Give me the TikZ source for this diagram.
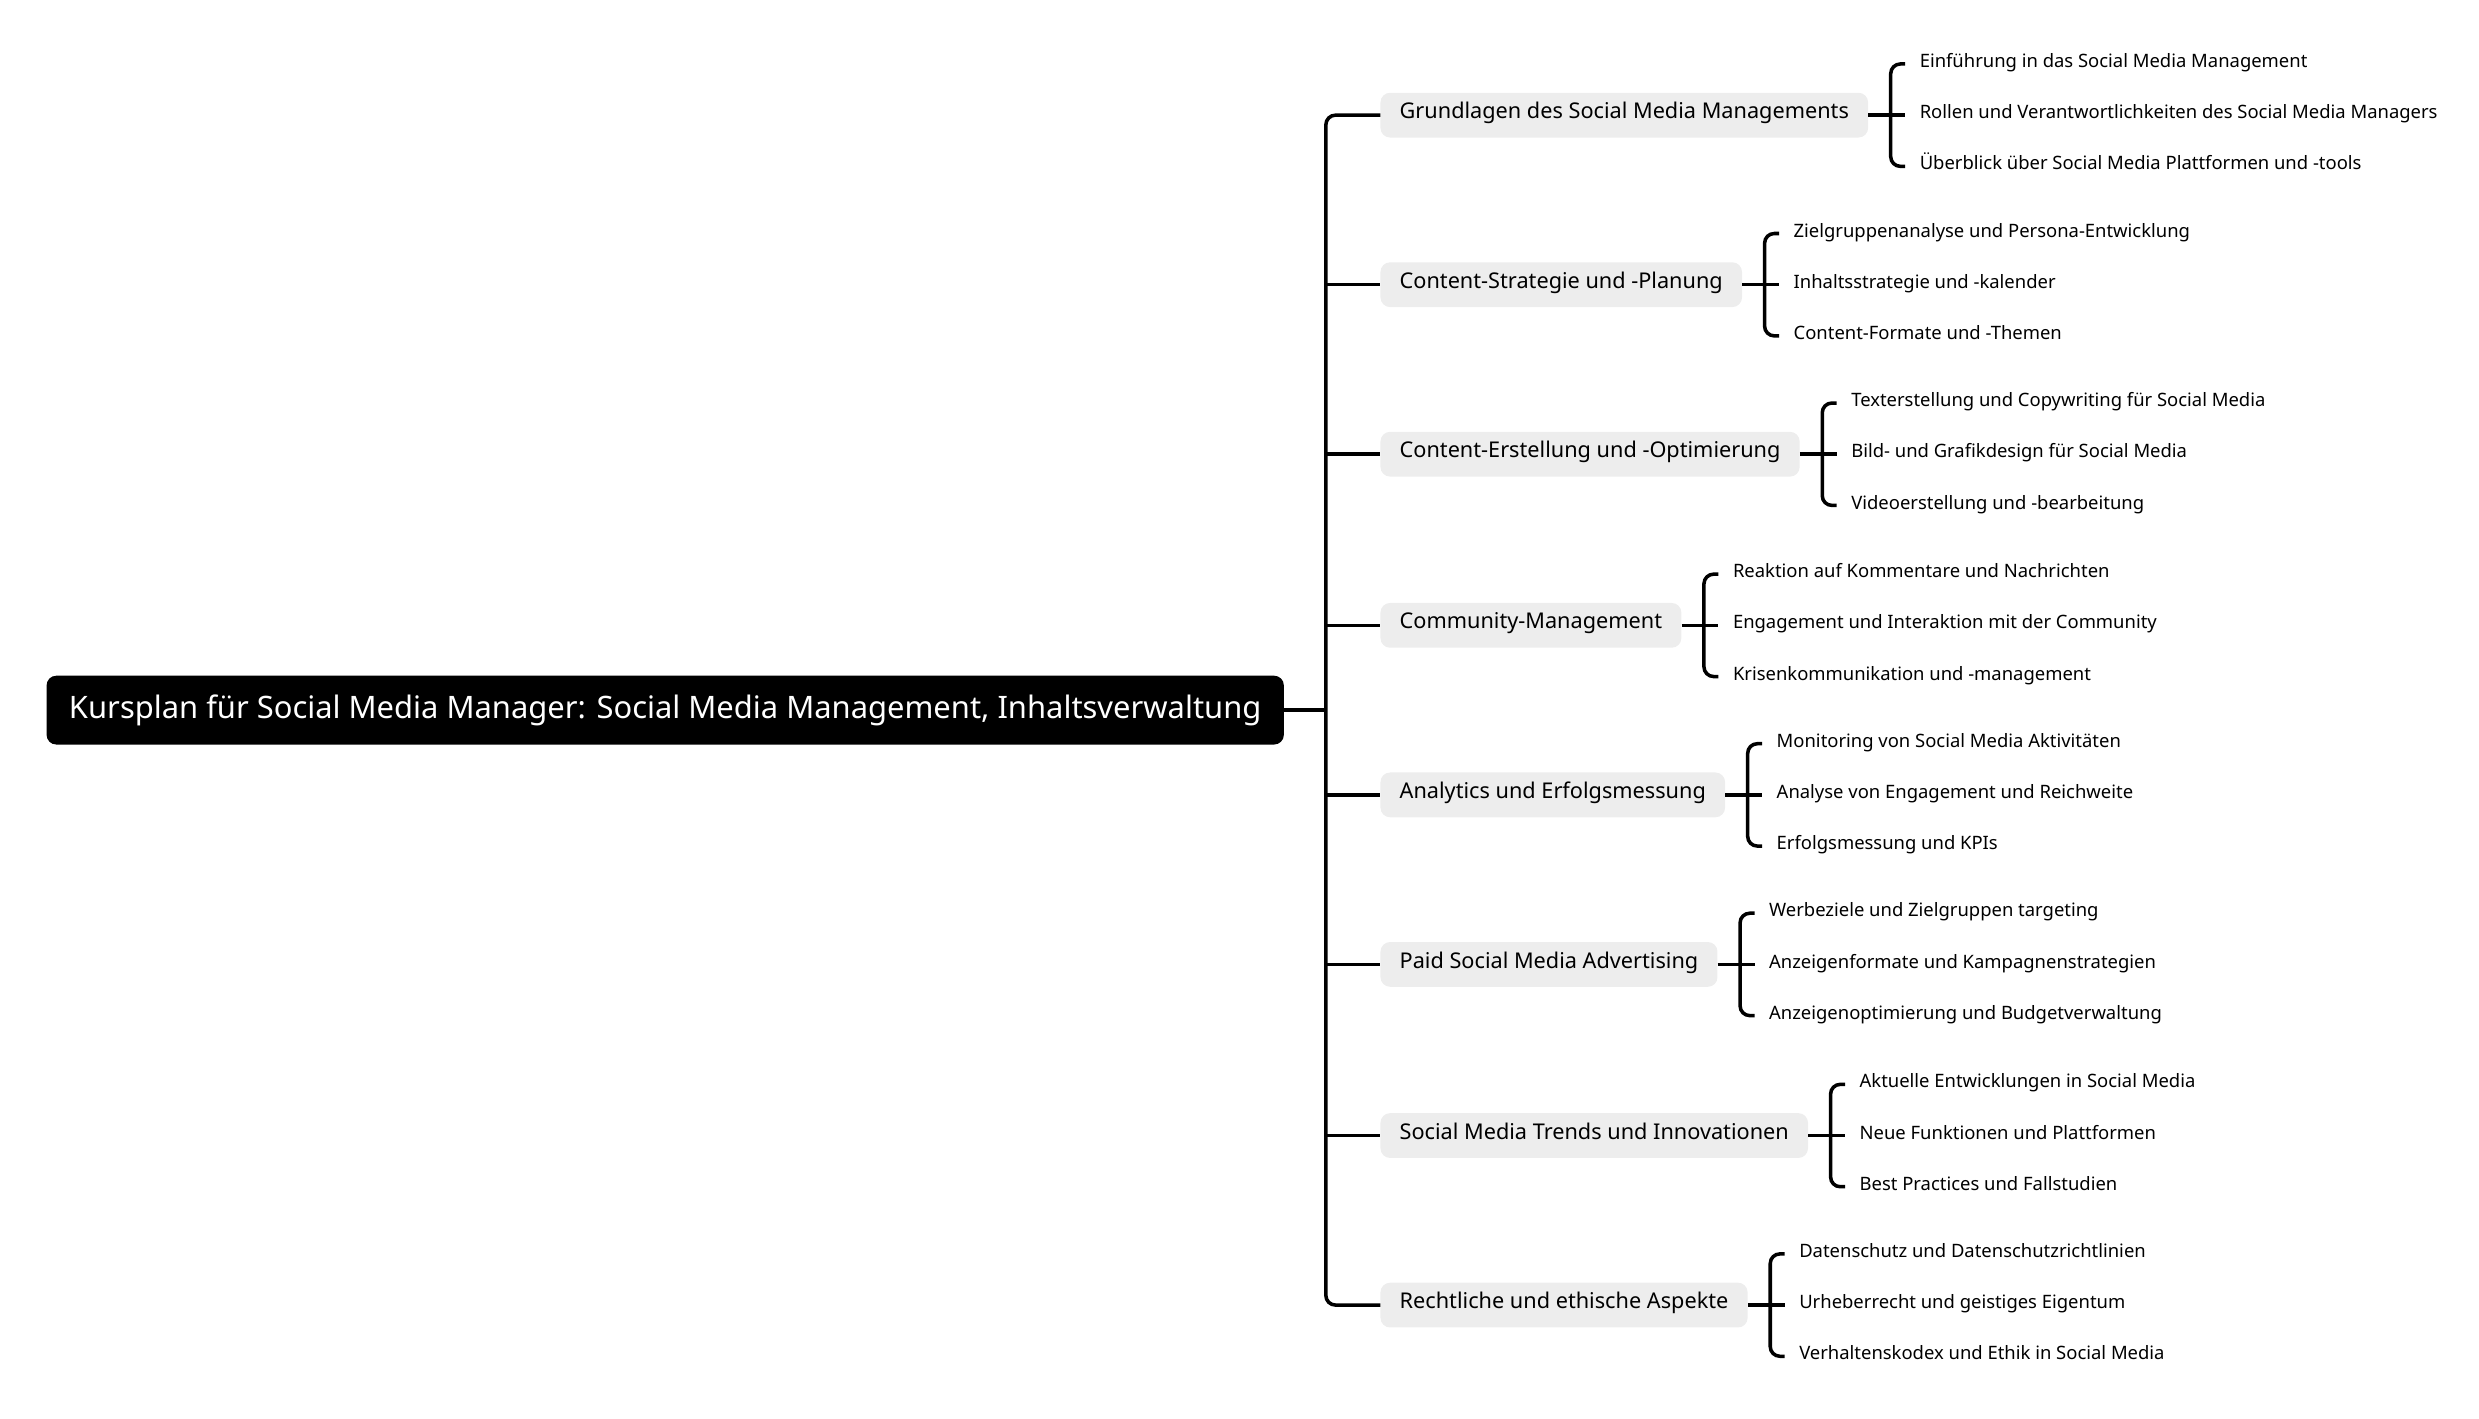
\documentclass[tikz,border=0pt]{standalone}
\usepackage{fontspec}
\setmainfont{Noto Sans}
\usetikzlibrary{positioning}

\tikzset{
  rootbox/.style={fill=black,text=white,rounded corners=3mm,inner xsep=7mm,
    minimum height=21.5mm,font=\fontsize{27.5}{32}\selectfont},
  topic/.style={fill=black!7,rounded corners=3mm,inner xsep=6mm,text height=1.6ex,text depth=.4ex,
    minimum height=14mm,font=\fontsize{19.3}{23}\selectfont},
  sub/.style={inner xsep=4.5mm,inner ysep=0pt,text height=1.6ex,text depth=.4ex,
    font=\fontsize{16.4}{19}\selectfont},
  link/.style={line width=1.1mm,rounded corners=3mm}
}

\begin{document}
\begin{tikzpicture}[x=0.5mm,y=-0.5mm]
\useasboundingbox (0,0) rectangle (1550,887);

\node [rootbox,anchor=west] (root) at (29,444) {Kursplan für Social Media Manager: Social Media Management, Inhaltsverwaltung};
\coordinate (trunk) at (829,444);
\draw [link] (root.east) -- (trunk);

% main topics and their sub topics
\foreach \n/\y/\t/\a/\b/\c in {
  a/72/{Grundlagen des Social Media Managements}/{Einführung in das Social Media Management}/{Rollen und Verantwortlichkeiten des Social Media Managers}/{Überblick über Social Media Plattformen und -tools},
  b/178/{Content-Strategie und -Planung}/{Zielgruppenanalyse und Persona-Entwicklung}/{Inhaltsstrategie und -kalender}/{Content-Formate und -Themen},
  c/284/{Content-Erstellung und -Optimierung}/{Texterstellung und Copywriting für Social Media}/{Bild- und Grafikdesign für Social Media}/{Videoerstellung und -bearbeitung},
  d/391/{Community-Management}/{Reaktion auf Kommentare und Nachrichten}/{Engagement und Interaktion mit der Community}/{Krisenkommunikation und -management},
  e/497/{Analytics und Erfolgsmessung}/{Monitoring von Social Media Aktivitäten}/{Analyse von Engagement und Reichweite}/{Erfolgsmessung und KPIs},
  f/603/{Paid Social Media Advertising}/{Werbeziele und Zielgruppen targeting}/{Anzeigenformate und Kampagnenstrategien}/{Anzeigenoptimierung und Budgetverwaltung},
  g/710/{Social Media Trends und Innovationen}/{Aktuelle Entwicklungen in Social Media}/{Neue Funktionen und Plattformen}/{Best Practices und Fallstudien},
  h/816/{Rechtliche und ethische Aspekte}/{Datenschutz und Datenschutzrichtlinien}/{Urheberrecht und geistiges Eigentum}/{Verhaltenskodex und Ethik in Social Media}}
{
  \node [topic,anchor=west] (\n) at (863,\y) {\t};
  \coordinate [right=7mm of \n.east] (\n br);
  \node [sub,anchor=west] (\n1) at ([xshift=4.5mm,yshift=16mm]\n br) {\a};
  \node [sub,anchor=west] (\n2) at ([xshift=4.5mm]\n br) {\b};
  \node [sub,anchor=west] (\n3) at ([xshift=4.5mm,yshift=-16mm]\n br) {\c};
  \draw [link] (\n.east) -- (\n2.west);
  \draw [link] (\n1.west) -| (\n br) |- (\n3.west);
}

\draw [link] (a.west) -| (trunk) |- (h.west);
\foreach \n in {b,c,d,e,f,g}
  \draw [link] (trunk |- \n.west) -- (\n.west);
\end{tikzpicture}
\end{document}
